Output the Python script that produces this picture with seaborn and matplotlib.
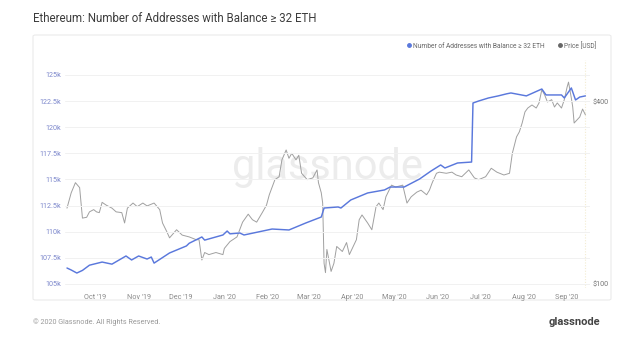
import matplotlib
matplotlib.use("Agg")
import matplotlib.pyplot as plt
from matplotlib.patches import FancyBboxPatch
from matplotlib.lines import Line2D
from matplotlib.ticker import FixedLocator, NullLocator
import seaborn as sns
import pandas as pd

title = "Ethereum: Number of Addresses with Balance \u2265 32 ETH"
series_addr_name = "Number of Addresses with Balance \u2265 32 ETH"
series_price_name = "Price [USD]"

addr_dates = ["2019-09-11", "2019-09-14", "2019-09-18", "2019-09-22", "2019-09-27", "2019-10-06",
              "2019-10-13", "2019-10-23", "2019-10-27", "2019-11-01", "2019-11-07", "2019-11-10",
              "2019-11-12", "2019-11-23", "2019-12-05", "2019-12-07", "2019-12-16", "2019-12-18",
              "2019-12-31", "2020-01-03", "2020-01-05", "2020-01-12", "2020-01-15", "2020-02-04",
              "2020-02-16", "2020-02-28", "2020-03-10", "2020-03-12", "2020-03-22", "2020-03-24",
              "2020-03-31", "2020-04-12", "2020-04-24", "2020-04-28", "2020-05-08", "2020-05-19",
              "2020-05-27", "2020-06-03", "2020-06-06", "2020-06-15", "2020-06-25", "2020-06-26",
              "2020-06-30", "2020-07-07", "2020-07-14", "2020-07-20", "2020-07-23", "2020-08-03",
              "2020-08-14", "2020-08-17", "2020-08-28", "2020-08-30", "2020-09-04", "2020-09-07",
              "2020-09-10", "2020-09-14"]
addr_values = [106530, 106340, 106050, 106300, 106800, 107100,
               106900, 107680, 107300, 107680, 107390, 107580,
               107000, 107970, 108640, 108900, 109500, 109200,
               109690, 110070, 109800, 109880, 109690, 110260,
               110170, 110840, 111410, 112270, 112370, 112270,
               113040, 113710, 114000, 114280, 114280, 115050,
               115800, 116390, 116100, 116580, 116670, 122320,
               122510, 122800, 123000, 123200, 123280, 123000,
               123660, 123090, 123090, 122800, 123760, 122610,
               122890, 123000]

price_dates = ["2019-09-11", "2019-09-14", "2019-09-17", "2019-09-20", "2019-09-22", "2019-09-25",
               "2019-09-27", "2019-09-30", "2019-10-02", "2019-10-04", "2019-10-06", "2019-10-09",
               "2019-10-11", "2019-10-13", "2019-10-16", "2019-10-20", "2019-10-22", "2019-10-24",
               "2019-10-28", "2019-10-31", "2019-11-04", "2019-11-07", "2019-11-12", "2019-11-16",
               "2019-11-18", "2019-11-21", "2019-11-23", "2019-11-28", "2019-12-02", "2019-12-07",
               "2019-12-12", "2019-12-14", "2019-12-16", "2019-12-18", "2019-12-21", "2019-12-26",
               "2019-12-31", "2020-01-01", "2020-01-05", "2020-01-10", "2020-01-14", "2020-01-18",
               "2020-01-21", "2020-01-24", "2020-01-28", "2020-01-31", "2020-02-02", "2020-02-06",
               "2020-02-09", "2020-02-11", "2020-02-14", "2020-02-16", "2020-02-18", "2020-02-21",
               "2020-02-23", "2020-02-25", "2020-02-29", "2020-03-04", "2020-03-07", "2020-03-08",
               "2020-03-10", "2020-03-11", "2020-03-12", "2020-03-13", "2020-03-14", "2020-03-17",
               "2020-03-19", "2020-03-21", "2020-03-25", "2020-03-28", "2020-03-30", "2020-04-04",
               "2020-04-06", "2020-04-08", "2020-04-12", "2020-04-15", "2020-04-18", "2020-04-20",
               "2020-04-23", "2020-04-25", "2020-04-29", "2020-05-02", "2020-05-07", "2020-05-10",
               "2020-05-13", "2020-05-17", "2020-05-20", "2020-05-24", "2020-05-26", "2020-05-28",
               "2020-05-31", "2020-06-02", "2020-06-07", "2020-06-11", "2020-06-14", "2020-06-18",
               "2020-06-23", "2020-06-27", "2020-06-30", "2020-07-05", "2020-07-09", "2020-07-13",
               "2020-07-18", "2020-07-22", "2020-07-24", "2020-07-27", "2020-07-29", "2020-07-31",
               "2020-08-02", "2020-08-04", "2020-08-07", "2020-08-10", "2020-08-12", "2020-08-14",
               "2020-08-16", "2020-08-18", "2020-08-21", "2020-08-23", "2020-08-25", "2020-08-28",
               "2020-08-30", "2020-09-01", "2020-09-02", "2020-09-04", "2020-09-05", "2020-09-06",
               "2020-09-08", "2020-09-10", "2020-09-12", "2020-09-14"]
price_values = [178, 200, 216, 208, 165, 166,
                173, 176, 173, 172, 186, 182,
                180, 178, 173, 172, 159, 178,
                185, 180, 185, 181, 185, 176,
                159, 149, 142, 151, 145, 143,
                140, 140, 120, 127, 125, 127,
                125, 131, 138, 143, 160, 170,
                163, 160, 172, 182, 197, 221,
                226, 257, 277, 260, 270, 257,
                266, 232, 221, 224, 238, 216,
                200, 185, 117, 109, 130, 110,
                117, 133, 128, 137, 125, 140,
                163, 169, 159, 151, 180, 185,
                176, 194, 212, 209, 212, 185,
                194, 201, 204, 197, 204, 216,
                232, 234, 232, 234, 229, 226,
                238, 224, 221, 226, 241, 234,
                229, 232, 270, 306, 318, 340,
                370, 381, 390, 381, 396, 438,
                421, 399, 406, 384, 396, 381,
                406, 447, 464, 411, 384, 340,
                348, 356, 378, 362]

left_ticks = [105000, 107500, 110000, 112500, 115000, 117500, 120000, 122500, 125000]
left_tick_labels = ["105k", "107.5k", "110k", "112.5k", "115k", "117.5k", "120k", "122.5k", "125k"]
right_ticks = [100, 400]
right_tick_labels = ["$100", "$400"]
month_ticks = ["2019-10-01", "2019-11-01", "2019-12-01", "2020-01-01", "2020-02-01", "2020-03-01",
               "2020-04-01", "2020-05-01", "2020-06-01", "2020-07-01", "2020-08-01", "2020-09-01"]
month_labels = ["Oct '19", "Nov '19", "Dec '19", "Jan '20", "Feb '20", "Mar '20",
                "Apr '20", "May '20", "Jun '20", "Jul '20", "Aug '20", "Sep '20"]

BLUE = "#5a78dc"
GRAY = "#a0a0a0"

sns.set_style("white")
plt.rcParams["font.family"] = ["Roboto", "DejaVu Sans"]

W, H = 640, 343
fig = plt.figure(figsize=(W / 100, H / 100), dpi=100)
fig.patch.set_facecolor("white")

def fx(px):
    return px / W

def fy(py):
    return 1 - py / H

# panel
panel = FancyBboxPatch((fx(33), fy(300)), fx(611) - fx(33), fy(35) - fy(300),
                       boxstyle="round,pad=0,rounding_size=0.004", transform=fig.transFigure,
                       facecolor="white", edgecolor="#ebebeb", linewidth=0.8, zorder=-5)
fig.patches.append(panel)

fig.text(fx(33), fy(18), title, fontsize=8.3, color="#3c3c3c", va="center", ha="left")
fig.text(fx(33), fy(322), "\u00a9 2020 Glassnode. All Rights Reserved.", fontsize=5.2,
         color="#9a9a9a", va="center", ha="left")
fig.text(fx(600), fy(322), "glassnode", fontsize=8, color="#444444", va="center", ha="right",
         fontweight="bold")

ax = fig.add_axes([fx(65), fy(288), fx(590) - fx(65), fy(60) - fy(288)])
ax.set_facecolor("none")
ax2 = ax.twinx()
ax2.set_facecolor("none")

df_addr = pd.DataFrame({"date": pd.to_datetime(addr_dates), "value": addr_values})
df_price = pd.DataFrame({"date": pd.to_datetime(price_dates), "value": price_values})

sns.lineplot(data=df_price, x="date", y="value", ax=ax2, color=GRAY, linewidth=0.7, zorder=2)
sns.lineplot(data=df_addr, x="date", y="value", ax=ax, color=BLUE, linewidth=1.05, zorder=3)
ax2.set_zorder(1)
ax.set_zorder(2)

# scales
ax.set_ylim(104617, 126435)
ax2.set_yscale("log")
ax2.set_ylim(96.97, 549)
xmin, xmax = pd.Timestamp("2019-09-09 14:00"), pd.Timestamp("2020-09-17 07:00")
ax.set_xlim(xmin, xmax)

ax.yaxis.set_major_locator(FixedLocator(left_ticks))
ax.set_yticklabels(left_tick_labels)
ax2.yaxis.set_major_locator(FixedLocator(right_ticks))
ax2.yaxis.set_minor_locator(NullLocator())
ax2.set_yticklabels(right_tick_labels)
ax.set_xticks(pd.to_datetime(month_ticks))
ax.set_xticklabels(month_labels)

ax.grid(axis="y", color="#f1f1f1", linewidth=0.7)
ax.grid(axis="x", visible=False)
ax2.grid(False)
for a in (ax, ax2):
    for s in a.spines.values():
        s.set_visible(False)
    a.set_xlabel("")
    a.set_ylabel("")
ax.tick_params(axis="y", length=0, labelsize=5.2, labelcolor="#7d88cc", pad=3)
ax.tick_params(axis="x", length=0, labelsize=5.2, labelcolor="#8a8a8a", pad=4)
ax2.tick_params(axis="y", length=0, labelsize=5.2, labelcolor="#777777", pad=2)

# "now" marker
ax2.axvline(pd.Timestamp("2020-09-14"), color="#f3ecd2", linewidth=0.8, linestyle=(0, (1, 1.5)), zorder=1)

# watermark
ax2.text(0.5, 0.53, "glassnode", transform=ax2.transAxes, fontsize=30, color="#ececec",
         ha="center", va="center", zorder=0)

handles = [Line2D([], [], marker="o", linestyle="none", color=BLUE, markersize=2.5),
           Line2D([], [], marker="o", linestyle="none", color="#666666", markersize=2.5)]
fig.legend(handles, [series_addr_name, series_price_name], loc="center right",
           bbox_to_anchor=(fx(602), fy(46)), ncol=2, frameon=False, fontsize=4.8,
           handletextpad=0.1, columnspacing=2.0, labelcolor="#666666", handlelength=0.8)

fig.savefig("out.png", dpi=100, facecolor="white")
